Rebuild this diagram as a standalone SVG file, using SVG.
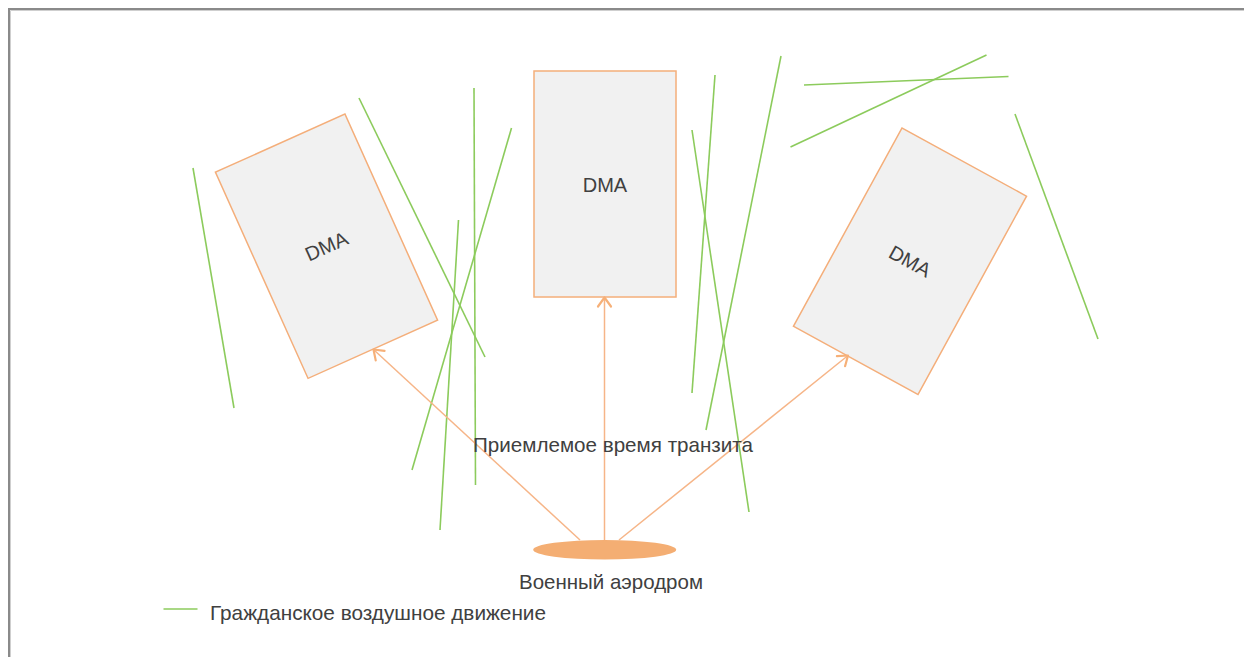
<svg xmlns="http://www.w3.org/2000/svg" width="1244" height="657" viewBox="0 0 1244 657">
  <style>
    .frame { fill: none; stroke: #8a8a8a; stroke-width: 2; }
    .frame-in { fill: none; stroke: #cfcfcf; stroke-width: 1; }
    .dma { fill: #f1f1f1; stroke: #f4ae7a; stroke-width: 1.5; }
    .lbl { font-family: "Liberation Sans", Arial, sans-serif; fill: #404040; }
    .dmatxt { font-size: 20px; text-anchor: middle; dominant-baseline: central; }
    .txt { font-size: 21px; }
    .route { fill: none; stroke: #f6b588; stroke-width: 1.5; }
    .civ { stroke: #8ccb5c; stroke-width: 1.6; fill: none; }
  </style>
  <defs>
    <marker id="arrow" markerUnits="userSpaceOnUse" markerWidth="20" markerHeight="20" viewBox="-12 -10 14 20" refX="0" refY="0" orient="auto">
      <path d="M-9,-6.5 L0,0 L-9,6.5" fill="none" stroke="#f6b078" stroke-width="2.2" stroke-linecap="round" stroke-linejoin="round"/>
    </marker>
  </defs>

  <rect width="1244" height="657" fill="#ffffff"/>
  <!-- page frame -->
  <path class="frame" d="M9,657 V9 H1244"/>
  <path class="frame-in" d="M10.5,657 V10.5 H1244"/>

  <!-- civil air traffic tracks -->
  <g id="civil-traffic">
    <line class="civ" x1="193" y1="168" x2="234" y2="408"/>
    <line class="civ" x1="359" y1="98" x2="485" y2="357"/>
    <line class="civ" x1="474" y1="88" x2="475.5" y2="485"/>
    <line class="civ" x1="511.5" y1="128" x2="412" y2="470"/>
    <line class="civ" x1="458.5" y1="220" x2="440" y2="530"/>
    <line class="civ" x1="715" y1="75" x2="692" y2="393"/>
    <line class="civ" x1="692" y1="130" x2="749" y2="512"/>
    <line class="civ" x1="781" y1="56" x2="706" y2="430"/>
    <line class="civ" x1="804" y1="85" x2="1008.5" y2="76.5"/>
    <line class="civ" x1="790.5" y1="147" x2="986.5" y2="55"/>
    <line class="civ" x1="1015" y1="114" x2="1098" y2="339"/>
  </g>

  <!-- DMA zones -->
  <g id="dma-left" transform="translate(326.5,246.2) rotate(-24.2)">
    <rect class="dma" x="-71" y="-113" width="142" height="226"/>
    <text class="lbl dmatxt" x="0" y="0">DMA</text>
  </g>
  <g id="dma-center">
    <rect class="dma" x="534" y="71" width="142" height="226"/>
    <text class="lbl dmatxt" x="605" y="185">DMA</text>
  </g>
  <g id="dma-right" transform="translate(910,261.2) rotate(28.7)">
    <rect class="dma" x="-71" y="-113" width="142" height="226"/>
    <text class="lbl dmatxt" x="0" y="0">DMA</text>
  </g>

  <!-- routes from the airfield -->
  <g id="connectors">
    <line class="route" x1="580" y1="540" x2="373.5" y2="349.5" marker-end="url(#arrow)"/>
    <line class="route" x1="604.5" y1="540" x2="604.5" y2="297.5" marker-end="url(#arrow)"/>
    <line class="route" x1="619" y1="540" x2="848" y2="355.5" marker-end="url(#arrow)"/>
  </g>

  <!-- military airfield -->
  <g id="airfield">
    <ellipse cx="604.7" cy="549.7" rx="71.5" ry="9.8" fill="#f4ae73"/>
    <text class="lbl txt" x="519" y="588.5" textLength="184" lengthAdjust="spacingAndGlyphs">Военный аэродром</text>
  </g>

  <g id="transit-label">
    <text class="lbl txt" x="473" y="452" textLength="280" lengthAdjust="spacingAndGlyphs">Приемлемое время транзита</text>
  </g>

  <!-- legend -->
  <g id="legend">
    <line x1="163.5" y1="609" x2="197.5" y2="609" stroke="#8ccb5c" stroke-width="1.6"/>
    <text class="lbl txt" x="210" y="620" textLength="336" lengthAdjust="spacingAndGlyphs">Гражданское воздушное движение</text>
  </g>
</svg>
